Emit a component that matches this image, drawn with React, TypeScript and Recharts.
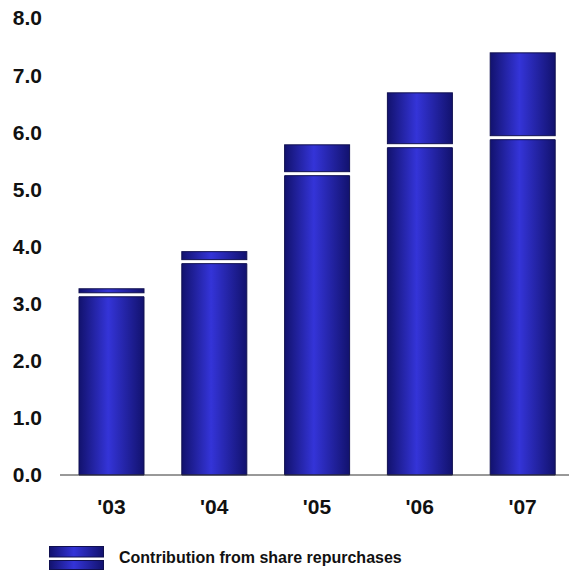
import { BarChart, Bar, XAxis, YAxis } from "recharts";

// data
const years = ["'03", "'04", "'05", "'06", "'07"];
const baseEps = [3.12, 3.7, 5.24, 5.73, 5.87];
const buybackEps = [0.14, 0.21, 0.54, 0.96, 1.52];
const yTicks = [0, 1, 2, 3, 4, 5, 6, 7, 8];

const data = years.map((year, i) => ({
  year,
  base: baseEps[i],
  buyback: buybackEps[i],
}));

const FONT = "'Liberation Sans', Arial, sans-serif";

// top segment is drawn a bit shorter so a white gap shows above the base
function GapShape(props: any) {
  const { x, y, width, height } = props;
  const h = Math.max(height - 4, 0);
  return (
    <rect x={x} y={y} width={width} height={h} fill="url(#barGrad)" stroke="#101050" strokeWidth={1} />
  );
}

function LegendIcon() {
  return (
    <svg width={55} height={24} style={{ display: "block" }}>
      <defs>
        <linearGradient id="legGrad" x1="0" y1="0" x2="1" y2="0">
          <stop offset="0%" stopColor="#12126e" />
          <stop offset="45%" stopColor="#3434d8" />
          <stop offset="100%" stopColor="#12126e" />
        </linearGradient>
      </defs>
      <rect x={0.5} y={0.5} width={54} height={10.5} fill="url(#legGrad)" stroke="#101050" />
      <rect x={0.5} y={14.5} width={54} height={9} fill="url(#legGrad)" stroke="#101050" />
    </svg>
  );
}

export default function App() {
  return (
    <div
      style={{
        position: "fixed",
        left: 0,
        top: 0,
        width: 569,
        height: 572,
        overflow: "hidden",
        background: "#fff",
        fontFamily: FONT,
      }}
    >
      <BarChart
        width={580}
        height={535}
        data={data}
        margin={{ top: 18, right: 6, left: 0, bottom: 0 }}
      >
        <defs>
          <linearGradient id="barGrad" x1="0" y1="0" x2="1" y2="0">
            <stop offset="0%" stopColor="#12126e" />
            <stop offset="45%" stopColor="#3434d8" />
            <stop offset="100%" stopColor="#12126e" />
          </linearGradient>
        </defs>
        <XAxis
          dataKey="year"
          height={60}
          tickLine={false}
          tickMargin={18}
          axisLine={{ stroke: "#333", strokeWidth: 1 }}
          tick={{ fill: "#111", fontSize: 21, fontWeight: 700, fontFamily: FONT }}
        />
        <YAxis
          domain={[0, 8]}
          ticks={yTicks}
          width={60}
          tickLine={false}
          axisLine={false}
          tickMargin={12}
          tickFormatter={(v: number) => v.toFixed(1)}
          tick={{ fill: "#111", fontSize: 21, fontWeight: 700, fontFamily: FONT }}
        />
        <Bar
          dataKey="base"
          stackId="eps"
          barSize={65}
          fill="url(#barGrad)"
          stroke="#101050"
          strokeWidth={1}
          isAnimationActive={false}
        />
        <Bar
          dataKey="buyback"
          stackId="eps"
          barSize={65}
          shape={GapShape}
          isAnimationActive={false}
        />
      </BarChart>
      <div
        style={{
          position: "absolute",
          left: 49,
          top: 546,
          display: "flex",
          alignItems: "center",
          gap: 15,
        }}
      >
        <LegendIcon />
        <span style={{ fontSize: 16, fontWeight: 700, color: "#111" }}>
          Contribution from share repurchases
        </span>
      </div>
    </div>
  );
}
